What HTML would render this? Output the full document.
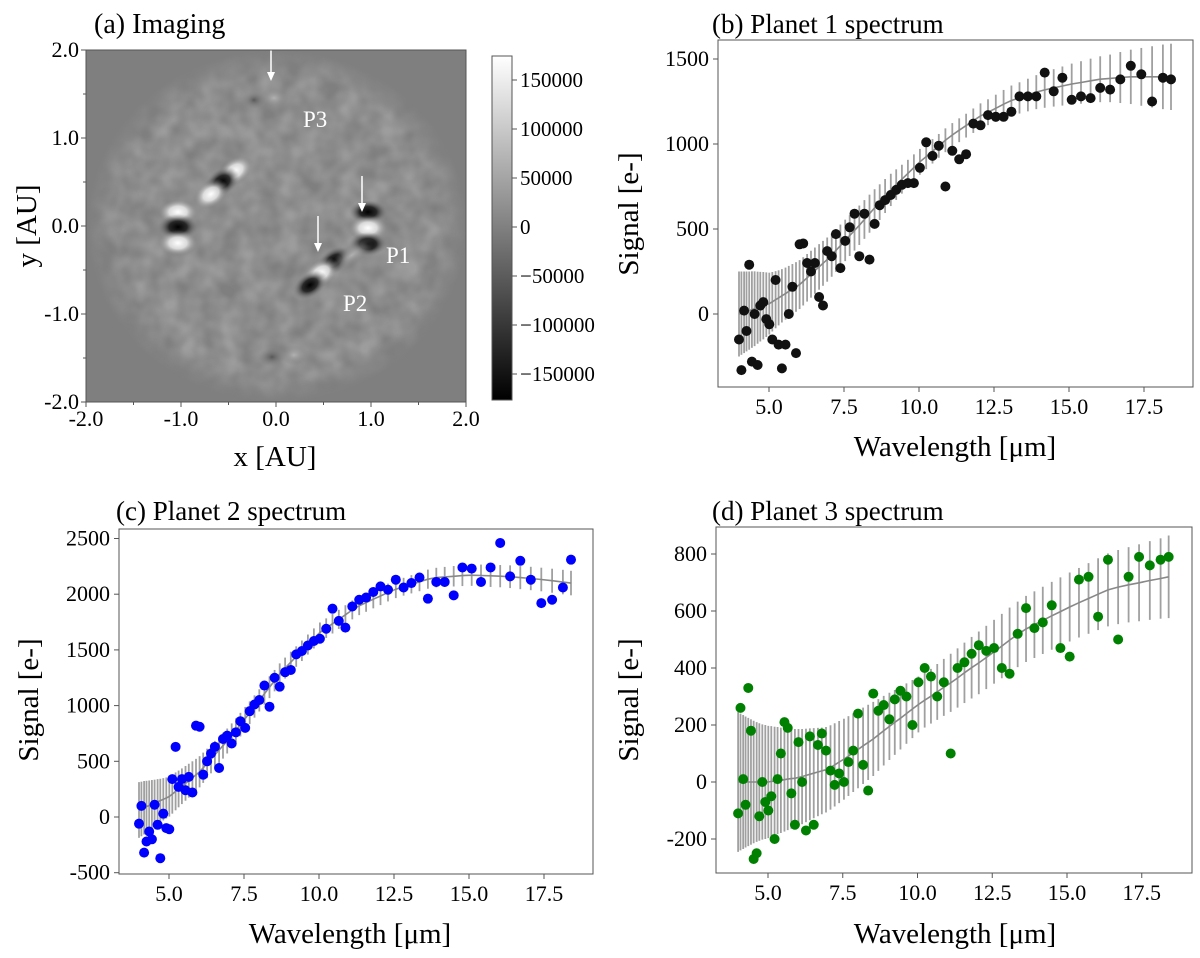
<!DOCTYPE html>
<html><head><meta charset="utf-8">
<style>
html,body{margin:0;padding:0;background:#fff;}
svg{display:block;font-family:"Liberation Serif",serif;}
</style></head>
<body>
<svg id="fig" width="1200" height="958" viewBox="0 0 1200 958" xmlns="http://www.w3.org/2000/svg">
<defs>
  <linearGradient id="cbar" x1="0" y1="1" x2="0" y2="0">
    <stop offset="0" stop-color="#000"/><stop offset="1" stop-color="#fff"/>
  </linearGradient>
  <radialGradient id="wblob"><stop offset="0" stop-color="#fff" stop-opacity="1"/><stop offset="0.45" stop-color="#e8e8e8" stop-opacity="0.85"/><stop offset="1" stop-color="#7f7f7f" stop-opacity="0"/></radialGradient>
  <radialGradient id="kblob"><stop offset="0" stop-color="#000" stop-opacity="1"/><stop offset="0.45" stop-color="#151515" stop-opacity="0.85"/><stop offset="1" stop-color="#7f7f7f" stop-opacity="0"/></radialGradient>
  <radialGradient id="wfaint"><stop offset="0" stop-color="#b5b5b5" stop-opacity="0.9"/><stop offset="1" stop-color="#7f7f7f" stop-opacity="0"/></radialGradient>
  <radialGradient id="kfaint"><stop offset="0" stop-color="#4a4a4a" stop-opacity="0.8"/><stop offset="1" stop-color="#7f7f7f" stop-opacity="0"/></radialGradient>
  <radialGradient id="diskfade"><stop offset="0.85" stop-color="#fff" stop-opacity="1"/><stop offset="1" stop-color="#fff" stop-opacity="0"/></radialGradient>
  <mask id="diskmask"><ellipse cx="277" cy="226" rx="190" ry="176" fill="url(#diskfade)"/></mask>
  <filter id="speck" x="0" y="0" width="100%" height="100%">
    <feTurbulence type="fractalNoise" baseFrequency="0.05" numOctaves="2" seed="3"/>
    <feColorMatrix type="matrix" values="0 0 0 0 0.5  0 0 0 0 0.5  0 0 0 0 0.5  0 0 0 1.6 -0.3"/>
  </filter>
</defs>

<g>
  <text x="94" y="33" font-size="28">(a) Imaging</text>
  <rect x="86" y="50" width="380" height="352" fill="#7f7f7f"/>
  <g mask="url(#diskmask)">
    <rect x="86" y="50" width="380" height="352" filter="url(#speck)" opacity="0.5"/>
  </g>
  <g>
    <ellipse cx="178" cy="212" rx="20" ry="13" fill="url(#wblob)"/>
    <ellipse cx="178" cy="227" rx="20" ry="13" fill="url(#kblob)"/>
    <ellipse cx="178" cy="243" rx="20" ry="13" fill="url(#wblob)"/>
    <ellipse cx="235" cy="171" rx="19" ry="13" fill="url(#wblob)" transform="rotate(-35 235 171)"/>
    <ellipse cx="222" cy="182" rx="19" ry="13" fill="url(#kblob)" transform="rotate(-35 222 182)"/>
    <ellipse cx="211" cy="194" rx="19" ry="13" fill="url(#wblob)" transform="rotate(-35 211 194)"/>
    <ellipse cx="368" cy="212" rx="19" ry="12" fill="url(#kblob)"/>
    <ellipse cx="368" cy="228" rx="20" ry="13" fill="url(#wblob)"/>
    <ellipse cx="368" cy="244" rx="19" ry="12" fill="url(#kblob)"/>
    <ellipse cx="334" cy="261" rx="19" ry="12" fill="url(#kblob)" transform="rotate(-35 334 261)"/>
    <ellipse cx="321" cy="273" rx="20" ry="13" fill="url(#wblob)" transform="rotate(-35 321 273)"/>
    <ellipse cx="310" cy="285" rx="19" ry="12" fill="url(#kblob)" transform="rotate(-35 310 285)"/>
    <ellipse cx="352" cy="255" rx="26" ry="10" fill="url(#wfaint)" transform="rotate(-35 352 255)"/>
    <ellipse cx="274" cy="98" rx="15" ry="10" fill="url(#wfaint)"/>
    <ellipse cx="254" cy="100" rx="12" ry="9" fill="url(#kfaint)"/>
    <ellipse cx="272" cy="357" rx="14" ry="10" fill="url(#kfaint)"/>
    <ellipse cx="294" cy="355" rx="14" ry="10" fill="url(#wfaint)"/>
  </g>
  <g stroke="#fff" stroke-width="1.5" fill="#fff">
    <line x1="271" y1="50" x2="271" y2="75"/><polygon points="267,72 275,72 271,81" stroke="none"/>
    <line x1="362" y1="176" x2="362" y2="205"/><polygon points="358,203 366,203 362,212" stroke="none"/>
    <line x1="318" y1="216" x2="318" y2="245"/><polygon points="314,243 322,243 318,252" stroke="none"/>
  </g>
  <g fill="#fff" font-size="23">
    <text x="303" y="127">P3</text>
    <text x="386" y="263">P1</text>
    <text x="343" y="311">P2</text>
  </g>
  <rect x="86" y="50" width="380" height="352" fill="none" stroke="#555" stroke-width="1"/>
  <g id="imgAxes"></g>
  <text x="275" y="466" font-size="29" text-anchor="middle">x [AU]</text>
  <text transform="translate(36 226) rotate(-90)" font-size="29" text-anchor="middle">y [AU]</text>
  <rect x="492" y="56" width="20" height="344" fill="url(#cbar)" stroke="#555" stroke-width="1"/>
  <g id="cbAxis"></g>
</g>

<g id="pb">
  <text x="712" y="33" font-size="27">(b) Planet 1 spectrum</text>
  <text x="955" y="456" font-size="29" text-anchor="middle">Wavelength [μm]</text>
  <text transform="translate(638 214) rotate(-90)" font-size="29" text-anchor="middle">Signal [e-]</text>
</g>
<g id="pc">
  <text x="116" y="520" font-size="27">(c) Planet 2 spectrum</text>
  <text x="350" y="943" font-size="29" text-anchor="middle">Wavelength [μm]</text>
  <text transform="translate(38 700) rotate(-90)" font-size="29" text-anchor="middle">Signal [e-]</text>
</g>
<g id="pd">
  <text x="712" y="520" font-size="27">(d) Planet 3 spectrum</text>
  <text x="955" y="943" font-size="29" text-anchor="middle">Wavelength [μm]</text>
  <text transform="translate(638 700) rotate(-90)" font-size="29" text-anchor="middle">Signal [e-]</text>
</g>
</svg>
<script>
const wavelengths = [4.00,4.08,4.17,4.25,4.34,4.43,4.52,4.62,4.71,4.81,4.91,5.01,5.11,5.22,5.32,5.43,5.55,5.66,5.78,5.90,6.02,6.14,6.27,6.40,6.53,6.67,6.80,6.94,7.09,7.23,7.38,7.54,7.69,7.85,8.01,8.18,8.35,8.52,8.69,8.87,9.06,9.24,9.43,9.63,9.83,10.03,10.24,10.45,10.66,10.88,11.11,11.34,11.57,11.81,12.05,12.30,12.56,12.82,13.08,13.35,13.63,13.91,14.19,14.49,14.78,15.09,15.40,15.72,16.04,16.37,16.71,17.06,17.41,17.77,18.13,18.40];
const xTicks = [5.0,7.5,10.0,12.5,15.0,17.5];
const xTickLabels = ["5.0","7.5","10.0","12.5","15.0","17.5"];

const p1Model = [0,5,10,15,20,26,31,37,43,49,55,61,72,84,95,107,120,133,146,159,173,192,213,234,255,277,298,320,347,374,402,433,461,491,522,556,590,624,658,694,730,761,793,827,861,895,926,957,989,1022,1053,1081,1108,1137,1165,1187,1210,1234,1256,1271,1288,1305,1318,1330,1341,1353,1362,1372,1381,1386,1391,1395,1395,1395,1395,1395];
const p1Err = [250,245,240,235,230,225,220,212,205,198,190,182,175,168,162,157,153,150,148,146,144,142,140,138,136,134,132,130,128,126,124,122,120,118,116,114,112,110,105,100,95,90,85,80,78,76,74,72,70,70,70,70,70,72,74,76,80,84,88,92,96,100,105,110,115,120,125,130,135,140,150,160,170,180,190,195];
const p1Points = [-150,-330,20,-100,290,-280,0,-300,50,70,-30,-60,-150,200,-180,-320,-180,0,160,-230,410,415,300,250,300,100,50,370,340,470,270,430,510,590,340,590,320,530,640,670,700,730,760,770,770,860,1010,930,990,750,960,910,940,1120,1110,1170,1160,1160,1190,1280,1280,1280,1420,1310,1390,1260,1280,1270,1330,1320,1380,1460,1410,1250,1390,1380];
const p1YTicks = [0,500,1000,1500];

const p2Model = [63,72,83,93,103,114,125,137,147,159,171,184,206,230,252,276,302,326,352,378,406,442,481,520,559,601,640,682,730,778,829,884,936,992,1047,1106,1165,1224,1283,1337,1390,1440,1492,1548,1603,1656,1695,1735,1774,1815,1859,1896,1925,1955,1984,2015,2045,2067,2089,2111,2135,2149,2155,2161,2167,2171,2168,2165,2162,2157,2149,2141,2132,2121,2109,2100];
const p2Err = [250,245,240,232,225,218,210,203,196,190,184,180,176,170,165,160,156,152,148,144,140,136,132,128,124,120,116,112,110,108,106,104,102,100,100,98,98,96,96,94,94,92,92,90,90,90,88,88,86,86,85,84,83,82,82,80,80,80,82,84,86,88,90,92,94,96,98,100,100,102,104,105,106,108,110,110];
const p2Points = [-60,100,-320,-220,-130,-200,110,-70,-370,30,-100,-110,340,630,270,340,240,360,220,820,810,380,500,570,630,440,700,730,660,760,860,800,950,1010,1050,1180,990,1250,1170,1300,1320,1460,1490,1540,1580,1600,1690,1870,1760,1700,1890,1950,1970,2020,2070,2040,2130,2060,2100,2150,1960,2110,2110,1990,2240,2230,2110,2240,2460,2160,2300,2130,1920,1950,2060,2310];
const p2YTicks = [-500,0,500,1000,1500,2000,2500];

const p3Model = [0,0,0,0,0,0,0,0,0,0,0,0,2,3,5,6,8,10,12,13,16,19,23,27,31,35,39,43,51,60,70,80,91,103,114,127,139,151,165,180,195,209,224,240,256,272,287,301,316,332,348,365,383,401,418,437,457,477,498,518,537,552,567,583,598,614,629,644,659,674,684,692,699,707,714,720];
const p3Err = [245,240,235,230,225,220,215,210,206,202,200,197,194,191,188,185,182,179,176,173,170,167,164,161,158,155,152,150,148,146,144,142,140,138,136,134,132,130,126,122,118,114,110,106,102,98,96,96,98,100,102,104,106,108,110,111,112,113,114,115,116,117,118,119,120,121,122,124,126,128,130,132,135,138,141,145];
const p3Points = [-110,260,10,-80,330,180,-270,-250,-120,0,-70,-100,-50,-200,10,100,210,190,-40,-150,140,0,-170,160,-150,130,170,110,40,-10,30,0,70,110,240,60,-30,310,250,270,220,290,320,300,200,350,400,370,300,350,100,400,420,450,480,460,470,400,380,520,610,540,560,620,470,440,710,720,580,780,500,720,790,760,780,790];
const p3YTicks = [-200,0,200,400,600,800];

const imgTicks = [-2.0,-1.0,0.0,1.0,2.0];
const imgTickLabels = ["-2.0","-1.0","0.0","1.0","2.0"];
const imgMinor = [-1.5,-0.5,0.5,1.5];
const cbTicks = [150000,100000,50000,0,-50000,-100000,-150000];
const cbTickLabels = ["150000","100000","50000","0","\u221250000","\u2212100000","\u2212150000"];

const NS = "http://www.w3.org/2000/svg";
function mk(tag, attrs, parent){const e=document.createElementNS(NS,tag);for(const k in attrs)e.setAttribute(k,attrs[k]);parent.appendChild(e);return e;}

(function(){
  const g=document.getElementById('imgAxes');
  const ax=v=>86+(v+2)*95, ay=v=>226-v*88;
  imgTicks.forEach((t,i)=>{
    mk('line',{x1:ax(t),x2:ax(t),y1:402,y2:407,stroke:'#555'},g);
    const tx=mk('text',{x:ax(t),y:426,'font-size':22,'text-anchor':'middle'},g);tx.textContent=imgTickLabels[i];
    
    
    mk('line',{x1:81,x2:86,y1:ay(t),y2:ay(t),stroke:'#555'},g);
    const ty=mk('text',{x:79,y:ay(t)+7,'font-size':22,'text-anchor':'end'},g);ty.textContent=imgTickLabels[i];
    
    
  });
  imgMinor.forEach(t=>{
    mk('line',{x1:ax(t),x2:ax(t),y1:402,y2:405,stroke:'#555'},g);
    mk('line',{x1:83,x2:86,y1:ay(t),y2:ay(t),stroke:'#555'},g);
  });
  const c=document.getElementById('cbAxis');
  const cy=v=>227-v*0.00098;
  cbTicks.forEach((t,i)=>{
    mk('line',{x1:512,x2:517,y1:cy(t),y2:cy(t),stroke:'#555'},c);
    const tt=mk('text',{x:520,y:cy(t)+7,'font-size':21},c);tt.textContent=cbTickLabels[i];
    
    
  });
})();

function spectrum(gid, frame, xs, ys, yTicks, model, err, pts, color, name){
  const g=document.getElementById(gid);
  const [L,T,R,B]=frame;
  mk('rect',{x:L,y:T,width:R-L,height:B-T,fill:'none',stroke:'#555','stroke-width':1},g);
  xTicks.forEach((t,i)=>{
    mk('line',{x1:xs(t),x2:xs(t),y1:B,y2:B+5,stroke:'#555'},g);
    const tx=mk('text',{x:xs(t),y:B+27,'font-size':22,'text-anchor':'middle'},g);tx.textContent=xTickLabels[i];
    
    
  });
  yTicks.forEach(t=>{
    mk('line',{x1:L-5,x2:L,y1:ys(t),y2:ys(t),stroke:'#555'},g);
    const ty=mk('text',{x:L-9,y:ys(t)+7,'font-size':22,'text-anchor':'end'},g);ty.textContent=String(t);
    
    
  });
  wavelengths.forEach((w,i)=>{
    const b=mk('line',{x1:xs(w),x2:xs(w),y1:ys(model[i]-err[i]),y2:ys(model[i]+err[i]),stroke:'#a0a0a0','stroke-width':1.8},g);
    
    
  });
  const d=wavelengths.map((w,i)=>(i?'L':'M')+xs(w).toFixed(1)+' '+ys(model[i]).toFixed(1)).join(' ');
  const p=mk('path',{d:d,fill:'none',stroke:'#888','stroke-width':1.6},g);
  
  
  wavelengths.forEach((w,i)=>{
    const c=mk('circle',{cx:xs(w),cy:ys(pts[i]),r:5,fill:color},g);
    
    
  });
}
spectrum('pb',[718,40,1193,387],w=>769+(w-5)*30,v=>314-v*0.17,p1YTicks,p1Model,p1Err,p1Points,'#111','planet1');
spectrum('pc',[119,529,593,874],w=>169+(w-5)*30,v=>817-v*0.1114,p2YTicks,p2Model,p2Err,p2Points,'#0000ff','planet2');
spectrum('pd',[716,527,1192,873],w=>768+(w-5)*29.9,v=>782-v*0.285,p3YTicks,p3Model,p3Err,p3Points,'#008000','planet3');
</script>
</body></html>
